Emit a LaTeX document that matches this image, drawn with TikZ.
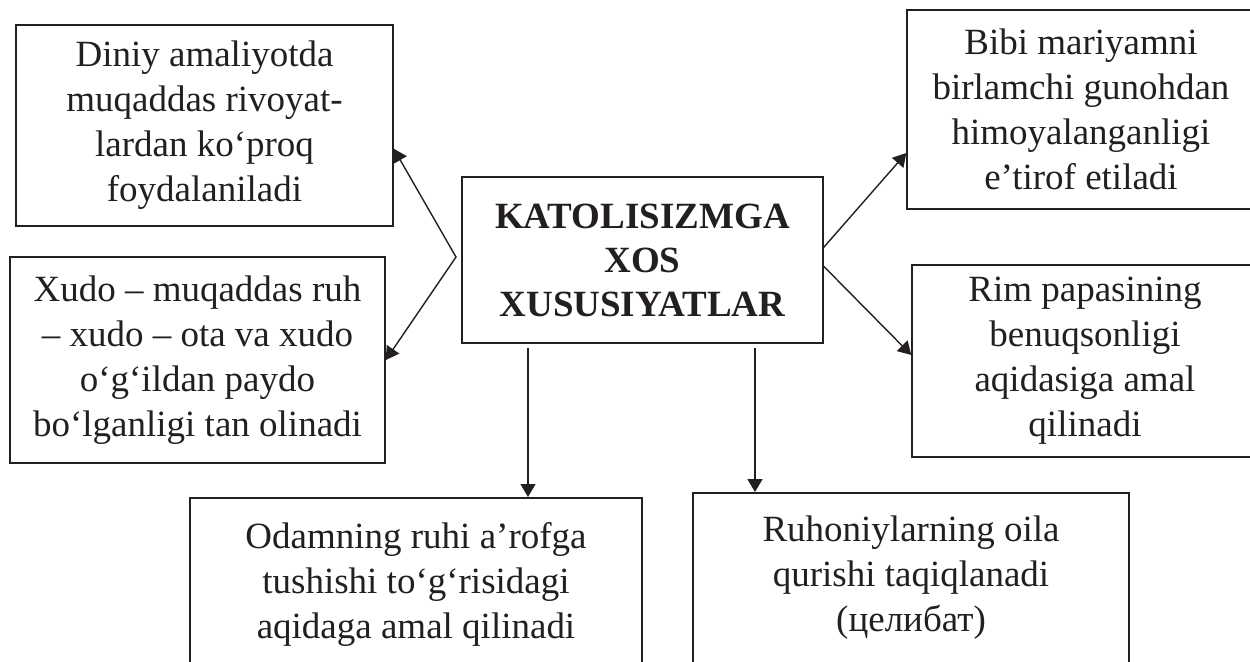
\documentclass[tikz,border=0pt]{standalone}
\usepackage{fontspec}
\setmainfont{Liberation Serif}
\usetikzlibrary{arrows.meta}
\definecolor{ink}{HTML}{231F20}

\begin{document}
\begin{tikzpicture}[
  x=0.5pt, y=-0.5pt,
  box/.style={draw=ink, line width=0.75pt, align=center, inner sep=0pt, text=ink,
              font=\fontsize{18.5pt}{22.5pt}\selectfont},
  head/.style={box, font=\fontsize{18.5pt}{22pt}\selectfont\bfseries},
  openbox/.style={box, anchor=north, inner ysep=12pt},
  arr/.style={->, >={Triangle[length=6.5pt, width=7.5pt]}, line width=0.7pt, color=ink},
]
\clip (0,0) rectangle (1250,661);
\node[head, minimum width=180.5pt, minimum height=83pt] (main) at (642.5,260)
  {KATOLISIZMGA\\XOS\\XUSUSIYATLAR};
\node[box, minimum width=188.5pt, minimum height=100.5pt] (diniy) at (204.5,125.5)
  {Diniy amaliyotda\\muqaddas rivoyat-\\lardan ko‘proq\\foydalaniladi};
\node[box, minimum width=187.5pt, minimum height=103pt] (xudo) at (197.5,360)
  {Xudo – muqaddas ruh\\– xudo – ota va xudo\\o‘g‘ildan paydo\\bo‘lganligi tan olinadi};
\node[box, minimum width=174pt, minimum height=99.5pt] (bibi) at (1081,109.5)
  {Bibi mariyamni\\birlamchi gunohdan\\himoyalanganligi\\e’tirof etiladi};
\node[box, minimum width=173pt, minimum height=96pt] (rim) at (1085,361)
  {Rim papasining\\benuqsonligi\\aqidasiga amal\\qilinadi};
\node[openbox, inner ysep=12.5pt, minimum width=226pt] (odam) at (416,497)
  {Odamning ruhi a’rofga\\tushishi to‘g‘risidagi\\aqidaga amal qilinadi\rule[-40pt]{0pt}{40pt}};
\node[openbox, inner ysep=11.5pt, minimum width=218pt] (ruhon) at (911,492)
  {Ruhoniylarning oila\\qurishi taqiqlanadi\\(целибат)\rule[-40pt]{0pt}{40pt}};

% left pair
\coordinate (lv) at (456,257);
\draw[arr, <->] (diniy.-7.4) -- (lv) -- (xudo.east);
% right pair
\draw[arr] (main.4.1) -- (bibi.194);
\draw[arr] (main.-2.2) -- (rim.178);
% down
\draw[arr, shorten <=2pt] ([xshift=-57.25pt]main.south) coordinate (d1) -- (d1 |- odam.north);
\draw[arr, shorten <=2pt] ([xshift=56.25pt]main.south) coordinate (d2) -- (d2 |- ruhon.north);
\end{tikzpicture}
\end{document}
